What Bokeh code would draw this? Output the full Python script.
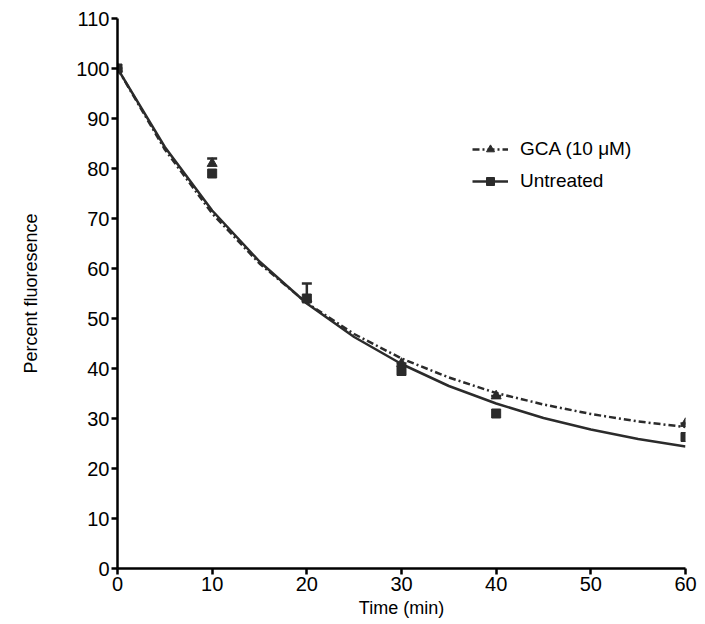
from bokeh.plotting import figure
from bokeh.models import Range1d, Legend, LegendItem, ColumnDataSource, Whisker, TeeHead, FixedTicker
from bokeh.embed import file_html
from bokeh.resources import INLINE

# measured points
time_pts = [0, 10, 20, 30, 40, 60]
gca_vals = [100, 81, 54, 41, 34.5, 29]
gca_err = [0, 1, 3, 0, 0, 0]
untreated_vals = [100, 79, 54, 39.5, 31, 26.3]

# fitted curves at 5-min steps
curve_t = [0, 5, 10, 15, 20, 25, 30, 35, 40, 45, 50, 55, 60]
gca_curve = [100, 83.8, 71.0, 61.0, 53.1, 46.9, 42.0, 38.2, 35.1, 32.8, 30.9, 29.4, 28.3]
untreated_curve = [100, 84.3, 71.6, 61.4, 53.0, 46.3, 40.9, 36.5, 33.0, 30.1, 27.8, 25.9, 24.4]

x_ticks = [0, 10, 20, 30, 40, 50, 60]
y_ticks = [0, 10, 20, 30, 40, 50, 60, 70, 80, 90, 100, 110]

FONT = "Liberation Sans"
C = "#2b2b2b"

p = figure(width=700, height=620, output_backend="svg", toolbar_location=None,
           x_range=Range1d(0, 60), y_range=Range1d(0, 110),
           min_border_left=117, min_border_top=18, min_border_right=15, min_border_bottom=52)
p.xgrid.visible = False
p.ygrid.visible = False
p.outline_line_color = None

for ax in (p.xaxis[0], p.yaxis[0]):
    ax.axis_line_width = 2.5
    ax.axis_line_color = "black"
    ax.major_tick_line_width = 2.5
    ax.major_tick_line_color = "black"
    ax.major_tick_out = 6
    ax.major_tick_in = 0
    ax.minor_tick_line_color = None
    ax.major_label_text_font = FONT
    ax.major_label_text_font_size = "20px"
    ax.major_label_text_color = "black"
    ax.axis_label_text_font = FONT
    ax.axis_label_text_font_size = "18px"
    ax.axis_label_text_font_style = "normal"
    ax.axis_label_text_color = "black"

p.xaxis.ticker = FixedTicker(ticks=x_ticks)
p.yaxis.ticker = FixedTicker(ticks=y_ticks)
p.xaxis.axis_label = "Time (min)"
p.yaxis.axis_label = "Percent fluoresence"
p.xaxis.major_label_standoff = 2
p.yaxis.major_label_standoff = 2
p.xaxis.axis_label_standoff = 4
p.yaxis.axis_label_standoff = 32

gca_line = p.line(curve_t, gca_curve, line_color=C, line_width=2.5, line_dash="7 3 2 3")
unt_line = p.line(curve_t, untreated_curve, line_color=C, line_width=2.5)

err_src = ColumnDataSource(dict(x=time_pts, lower=gca_vals,
                                upper=[v + e for v, e in zip(gca_vals, gca_err)]))
p.add_layout(Whisker(source=err_src, base="x", lower="lower", upper="upper",
                     line_color=C, line_width=2.5, lower_head=None,
                     upper_head=TeeHead(size=10, line_color=C, line_width=2.5)))

gca_m = p.scatter(time_pts, gca_vals, marker="triangle", size=10, fill_color=C, line_color=C)
unt_m = p.scatter(time_pts, untreated_vals, marker="square", size=9, fill_color=C, line_color=C)

legend = Legend(items=[
    LegendItem(label="GCA (10 \u03bcM)", renderers=[gca_line, gca_m]),
    LegendItem(label="Untreated", renderers=[unt_line, unt_m]),
], location=(355, 376))
legend.border_line_color = None
legend.background_fill_alpha = 0
legend.label_text_font = FONT
legend.label_text_font_size = "19px"
legend.label_text_color = "black"
legend.glyph_width = 36
legend.spacing = 10
legend.label_standoff = 12
p.add_layout(legend)

open("out.html", "w").write(file_html(p, INLINE))
